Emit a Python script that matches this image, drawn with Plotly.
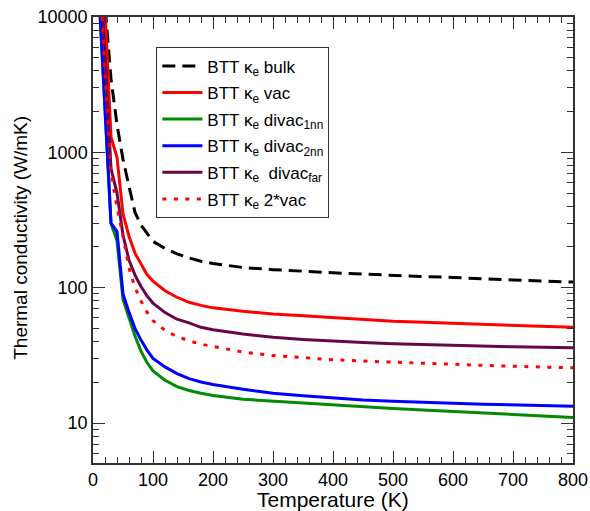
import plotly.graph_objects as go

T = [10, 20, 30, 40, 50, 60, 70, 80, 90, 100, 120, 140, 160, 180, 200,
     250, 300, 350, 400, 450, 500, 550, 600, 650, 700, 750, 800]

bulk = [44000, 12500, 3500, 1600, 890, 562, 360, 290, 250, 220, 195, 178, 166, 157, 151,
        141, 136, 132, 129, 126, 123, 121, 119, 116, 114, 112, 110]
vac = [96000, 11100, 1300, 920, 350, 240, 180, 150, 125, 112, 95, 85, 78, 74, 71,
       67, 64, 62, 60, 58, 56.5, 55.5, 54.5, 53.5, 52.5, 51.7, 51]
divac_1nn = [14700, 2100, 300, 222, 82, 60, 44, 34, 28, 24.3, 20.7, 18.6, 17.4, 16.6, 16.0,
             15.0, 14.5, 14.0, 13.6, 13.2, 12.8, 12.5, 12.2, 11.8, 11.5, 11.2, 11.0]
divac_2nn = [14700, 2100, 300, 260, 90, 66, 50, 41, 34.6, 30, 26, 23.2, 21.3, 20.1, 19.3,
             17.8, 16.6, 15.9, 15.3, 14.8, 14.5, 14.2, 14.0, 13.8, 13.6, 13.4, 13.3]
divac_far = [36000, 5300, 760, 500, 245, 160, 124, 102, 87, 77, 65.5, 58.5, 55, 51, 49,
             45.5, 43, 41.5, 40.3, 39.3, 38.6, 38.0, 37.5, 37.0, 36.6, 36.3, 36]
vac2 = [26600, 3760, 700, 395, 240, 140, 100, 80, 66, 57, 48.5, 43.5, 40.5, 38.3, 36.8,
        33.5, 31.5, 30.3, 29.4, 28.7, 28.1, 27.6, 27.1, 26.7, 26.3, 25.9, 25.6]

names = ["BTT κ<sub>e</sub> bulk", "BTT κ<sub>e</sub> vac", "BTT κ<sub>e</sub> divac<sub>1nn</sub>",
         "BTT κ<sub>e</sub> divac<sub>2nn</sub>", "BTT κ<sub>e</sub>  divac<sub>far</sub>",
         "BTT κ<sub>e</sub> 2*vac"]
series = [bulk, vac, divac_1nn, divac_2nn, divac_far, vac2]
colors = ["#000000", "#ff0000", "#008b00", "#0000ff", "#670748", "#ff0000"]
dashes = ["13px,7px", "solid", "solid", "solid", "solid", "4px,7.5px"]

fig = go.Figure()
for i, (nm, ys, c, d) in enumerate(zip(names, series, colors, dashes)):
    fig.add_trace(go.Scatter(x=T, y=ys, name=nm, mode="lines",
                             line=dict(color=c, width=3, dash=d),
                             legendgroup=str(i)))

axis_common = dict(showline=True, linecolor="#333", linewidth=1.5, mirror="allticks",
                   ticks="inside", ticklen=12, tickwidth=1.2, tickcolor="#333",
                   showgrid=False, zeroline=False, automargin=False,
                   ticklabeloverflow="allow",
                   tickfont=dict(size=18, color="black"))

fig.update_xaxes(range=[0, 800], dtick=100, tick0=0,
                 minor=dict(ticks="inside", ticklen=6, dtick=20, tickcolor="#333", tickwidth=1),
                 **axis_common)
fig.update_yaxes(type="log", range=[0.705, 4.0], dtick=1, tickformat="d",
                 minor=dict(ticks="inside", ticklen=6, dtick="D1", tickcolor="#333", tickwidth=1),
                 **axis_common)

fig.add_annotation(text="Thermal conductivity (W/mK)", textangle=-90,
                   xref="paper", yref="paper", x=-0.15, y=0.505,
                   xanchor="center", yanchor="middle", showarrow=False,
                   font=dict(size=19, color="black"))
fig.add_annotation(text="Temperature (K)",
                   xref="paper", yref="paper", x=0.5, y=-0.081,
                   xanchor="center", yanchor="middle", showarrow=False,
                   font=dict(size=21, color="black"))

fig.update_layout(
    width=590, height=511,
    margin=dict(l=93, r=17, t=17, b=48),
    plot_bgcolor="white", paper_bgcolor="white",
    font=dict(family="Liberation Sans, Arial, sans-serif", color="black"),
    legend=dict(x=0.132, y=0.932, xanchor="left", yanchor="top",
                bgcolor="white", bordercolor="#333", borderwidth=1,
                font=dict(size=17, color="black"), tracegroupgap=1.5,
                itemwidth=40),
    showlegend=True,
)

# remove the default 8px page margin so the 590x511 figure fills the window exactly
fig.write_html("out.html", config={"displayModeBar": False},
               post_script="document.body.style.margin='0';")
